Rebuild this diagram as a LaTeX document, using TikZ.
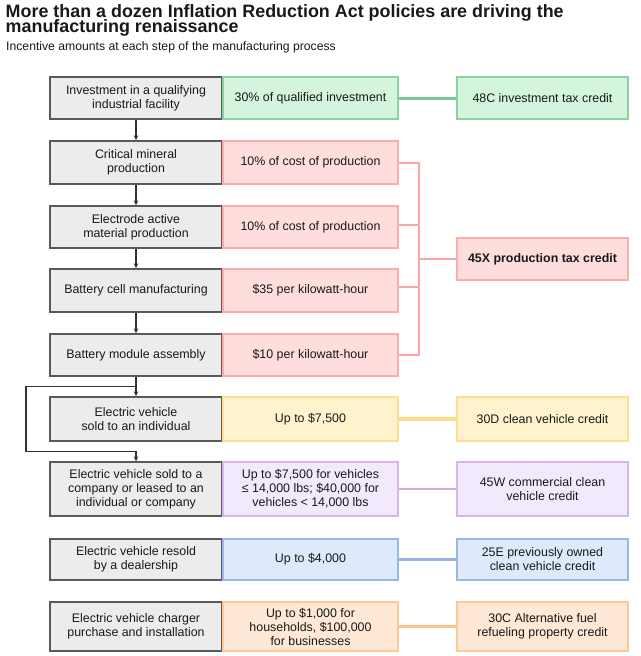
\documentclass[tikz,border=0pt]{standalone}
\usepackage{fontspec}
\setmainfont{Liberation Sans}
\usetikzlibrary{arrows.meta,calc}
\newcommand\mytighttitle{\lineskiplimit=-20pt\relax\lineskip=0pt\relax}
\definecolor{grayf}{RGB}{236,236,236}
\definecolor{grayb}{RGB}{90,90,90}
\definecolor{flowc}{RGB}{50,50,50}
\definecolor{gfill}{RGB}{212,245,221}
\definecolor{gdraw}{RGB}{140,210,160}
\definecolor{gline}{RGB}{125,198,150}
\definecolor{rfill}{RGB}{255,221,221}
\definecolor{rdraw}{RGB}{255,172,172}
\definecolor{rline}{RGB}{255,165,165}
\definecolor{yfill}{RGB}{255,243,206}
\definecolor{ydraw}{RGB}{255,222,145}
\definecolor{yline}{RGB}{255,220,135}
\definecolor{pfill}{RGB}{243,233,253}
\definecolor{pdraw}{RGB}{215,182,240}
\definecolor{pline}{RGB}{210,172,235}
\definecolor{bfill}{RGB}{222,234,252}
\definecolor{bdraw}{RGB}{155,183,232}
\definecolor{bline}{RGB}{150,180,230}
\definecolor{ofill}{RGB}{255,232,214}
\definecolor{odraw}{RGB}{255,200,152}
\definecolor{oline}{RGB}{255,195,142}
\begin{document}
\begin{tikzpicture}[x=1pt,y=-1pt,
  every node/.style={font=\fontsize{12.4}{14}\selectfont, align=center, inner sep=1pt, text=black!90},
  stepbox/.style={draw=grayb, fill=grayf, line width=1.4pt, minimum width=172pt},
  amt/.style={line width=1.1pt, minimum width=175pt},
  cred/.style={line width=1.1pt, minimum width=171pt},
  gbox/.style={draw=gdraw, fill=gfill},
  rbox/.style={draw=rdraw, fill=rfill},
  ybox/.style={draw=ydraw, fill=yfill},
  pbox/.style={draw=pdraw, fill=pfill},
  bbox/.style={draw=bdraw, fill=bfill},
  obox/.style={draw=odraw, fill=ofill},
  flow/.style={draw=flowc, line width=1.4pt, -{Stealth[length=5pt,width=4.5pt]}},
  titlefont/.style={font={\fontsize{17.9}{15.2}\selectfont\bfseries\mytighttitle}, inner sep=0pt, anchor=north west, align=left},
]
\fill[white] (0,0) rectangle (640,656);
\useasboundingbox (0,0) rectangle (640,656);

% title
\node[titlefont] (title) at (5.5,4.3) {More than a dozen Inflation Reduction Act policies are driving the\\manufacturing renaissance};
\node[font=\fontsize{12.2}{14}\selectfont, inner sep=0pt, anchor=base west] (sub) at (6,50.7) {Incentive amounts at each step of the manufacturing process};

\coordinate (bx) at (419,0);

% rows
\node[stepbox, minimum height=42pt] (l1) at (136,98) {Investment in a qualifying\\industrial facility};
\node[amt, gbox, minimum height=42pt] (m1) at (310.5,98) {30\% of qualified investment};
\node[cred, gbox, minimum height=42pt] (r1) at (542.5,98) {48C investment tax credit};

\node[stepbox, minimum height=43pt] (l2) at (136,162.5) {Critical mineral\\production};
\node[amt, rbox, minimum height=43pt] (m2) at (310.5,162.5) {10\% of cost of production};

\node[stepbox, minimum height=42pt] (l3) at (136,227) {Electrode active\\material production};
\node[amt, rbox, minimum height=42pt] (m3) at (310.5,227) {10\% of cost of production};

\node[stepbox, minimum height=43pt] (l4) at (136,290.5) {Battery cell manufacturing};
\node[amt, rbox, minimum height=43pt] (m4) at (310.5,290.5) {\$35 per kilowatt-hour};

\node[stepbox, minimum height=42pt] (l5) at (136,355) {Battery module assembly};
\node[amt, rbox, minimum height=42pt] (m5) at (310.5,355) {\$10 per kilowatt-hour};

\node[cred, rbox, minimum height=42pt, font=\fontsize{12.4}{14}\selectfont\bfseries] (r45) at (542.5,259) {45X production tax credit};

\node[stepbox, minimum height=44pt] (l6) at (136,419) {Electric vehicle\\sold to an individual};
\node[amt, ybox, minimum height=44pt] (m6) at (310.5,419) {Up to \$7,500};
\node[cred, ybox, minimum height=44pt] (r6) at (542.5,419) {30D clean vehicle credit};

\node[stepbox, minimum height=54pt] (l7) at (136,489) {Electric vehicle sold to a\\company or leased to an\\individual or company};
\node[amt, pbox, minimum height=54pt] (m7) at (310.5,489) {Up to \$7,500 for vehicles\\≤ 14,000 lbs; \$40,000 for\\vehicles < 14,000 lbs};
\node[cred, pbox, minimum height=54pt] (r7) at (542.5,489) {45W commercial clean\\vehicle credit};

\node[stepbox, minimum height=41pt] (l8) at (136,559.5) {Electric vehicle resold\\by a dealership};
\node[amt, bbox, minimum height=41pt] (m8) at (310.5,559.5) {Up to \$4,000};
\node[cred, bbox, minimum height=41pt] (r8) at (542.5,559.5) {25E previously owned\\clean vehicle credit};

\node[stepbox, minimum height=49pt] (l9) at (136,626.5) {Electric vehicle charger\\purchase and installation};
\node[amt, obox, minimum height=49pt] (m9) at (310.5,626.5) {Up to \$1,000 for\\households, \$100,000\\for businesses};
\node[cred, obox, minimum height=49pt] (r9) at (542.5,626.5) {30C Alternative fuel\\refueling property credit};

% horizontal credit links
\draw[gline, line width=3pt] (m1.east) -- (r1.west);
\draw[yline, line width=4pt] (m6.east) -- (r6.west);
\draw[pline, line width=2.6pt] (m7.east) -- (r7.west);
\draw[bline, line width=2.6pt] (m8.east) -- (r8.west);
\draw[oline, line width=2.6pt] (m9.east) -- (r9.west);

% 45X bracket
\draw[rline, line width=2pt] (m2.east) -- (m2.east -| bx) -- (m5.east -| bx) -- (m5.east);
\draw[rline, line width=2pt] ([yshift=2pt]m3.east) -- ([yshift=2pt]m3.east -| bx);
\draw[rline, line width=2pt] ([yshift=4pt]m4.east) -- ([yshift=4pt]m4.east -| bx);
\draw[rline, line width=2pt] (r45.west) -- (r45.west -| bx);

% process flow
\draw[flow] (l1) -- (l2);
\draw[flow] (l2) -- (l3);
\draw[flow] (l3) -- (l4);
\draw[flow] (l4) -- (l5);
\draw[flow] (l5) -- (l6);
\coordinate (j1) at ($(l5.south)!0.5!(l6.north)$);
\coordinate (j2) at ($(l6.south)!0.5!(l7.north)$);
\draw[flow] (j1) -- ++(-110,0) |- (j2) -- (l7.north);
\end{tikzpicture}
\end{document}
